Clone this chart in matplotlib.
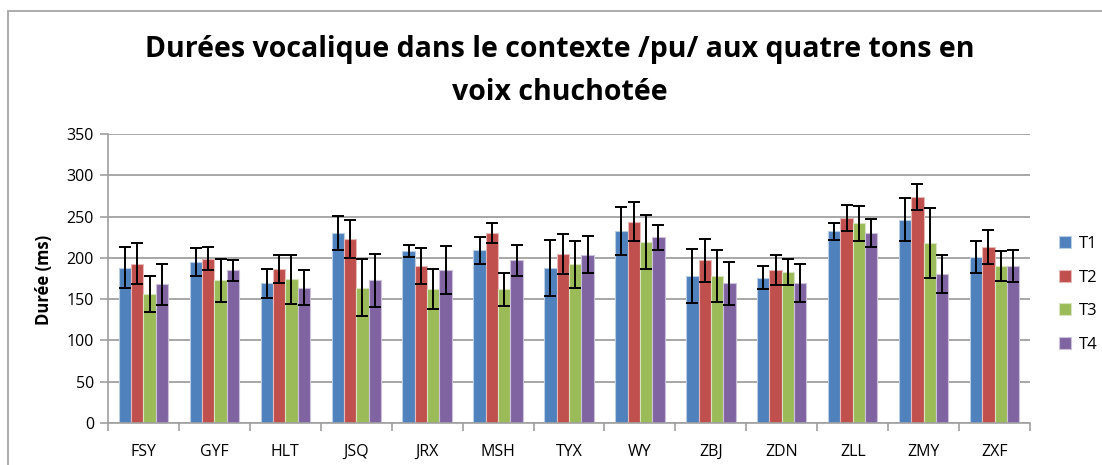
import matplotlib
matplotlib.use("Agg")
import matplotlib.pyplot as plt
import numpy as np
from matplotlib.patches import Rectangle

speakers = ["FSY", "GYF", "HLT", "JSQ", "JRX", "MSH", "TYX", "WY", "ZBJ", "ZDN", "ZLL", "ZMY", "ZXF"]
tones = ["T1", "T2", "T3", "T4"]

t1 = [188, 195, 169, 230, 208, 209, 188, 232, 178, 176, 232, 246, 201]
t2 = [193, 199, 186, 223, 190, 230, 205, 244, 197, 185, 248, 274, 213]
t3 = [156, 173, 174, 164, 162, 162, 192, 219, 178, 183, 242, 218, 190]
t4 = [168, 185, 164, 173, 185, 197, 204, 225, 169, 169, 230, 180, 190]

e1 = [25, 17, 18, 21, 7, 16, 34, 29, 33, 14, 10, 26, 19]
e2 = [25, 14, 17, 23, 22, 12, 24, 24, 26, 18, 16, 16, 21]
e3 = [22, 26, 30, 35, 24, 20, 29, 33, 32, 16, 21, 42, 18]
e4 = [25, 13, 21, 32, 29, 19, 22, 15, 26, 23, 17, 23, 19]

colors = ["#4F81BD", "#C0504D", "#9BBB59", "#8064A2"]
edges = ["#B9CDE5", "#E6B9B8", "#D7E4BD", "#CCC1DA"]

W, H = 1102, 465
fig = plt.figure(figsize=(W / 100, H / 100), dpi=100)
fig.patch.set_facecolor("white")

# outer chart frame
fig.patches.append(Rectangle((8 / W, -0.1), 1.2, 1 - 11 / H + 0.1,
                             transform=fig.transFigure, fill=False,
                             edgecolor="#A6A6A6", linewidth=1.3, zorder=0))

ax = fig.add_axes([108 / W, 1 - 423 / H, (1030 - 108) / W, (423 - 134) / H])

font = ["Open Sans", "DejaVu Sans"]
x = np.arange(len(speakers))
bw = 0.174
series = [t1, t2, t3, t4]
errs = [e1, e2, e3, e4]
for i, (vals, err) in enumerate(zip(series, errs)):
    pos = x + (i - 1.5) * bw
    ax.bar(pos, vals, width=bw, color=colors[i], edgecolor=edges[i],
           linewidth=0.8, label=tones[i], zorder=2)
    ax.errorbar(pos, vals, yerr=err, fmt="none", ecolor="black",
                elinewidth=1.4, capsize=4, capthick=1.4, zorder=3)

ax.set_xlim(-0.5, len(speakers) - 0.5)
ax.set_ylim(0, 350)
ax.set_yticks(np.arange(0, 351, 50))
ax.yaxis.grid(True, color="#A0A0A0", linewidth=1.3, zorder=0)
ax.set_axisbelow(True)

ax.set_xticks(np.arange(-0.5, len(speakers)), minor=False)
ax.set_xticklabels([])
ax.set_xticks(x, minor=True)
ax.set_xticklabels(speakers, minor=True, fontsize=11.5, family=font)
ax.tick_params(axis="x", which="major", length=6, color="#A0A0A0", width=1.2)
ax.tick_params(axis="x", which="minor", length=0, pad=15)
ax.tick_params(axis="y", length=6, color="#A0A0A0", width=1.2, labelsize=11.5, pad=4)
for lab in ax.get_yticklabels():
    lab.set_family(font)

for s in ["top", "right"]:
    ax.spines[s].set_visible(False)
for s in ["left", "bottom"]:
    ax.spines[s].set_color("#A0A0A0")
    ax.spines[s].set_linewidth(1.2)

ax.set_ylabel("Durée (ms)", fontsize=12, fontweight="bold", family=font)
ax.yaxis.set_label_coords(-0.0597, 0.495)

leg = ax.legend(loc="center left", bbox_to_anchor=(1.015, 0.445), frameon=False,
                prop={"family": font, "size": 12}, handlelength=0.75,
                handleheight=0.75, labelspacing=1.05, handletextpad=0.45)

fig.text(560 / W, 1 - 50 / H, "Durées vocalique dans le contexte /pu/ aux quatre tons en",
         ha="center", va="center", fontsize=20.5, fontweight="bold", family=font)
fig.text(560 / W, 1 - 92 / H, "voix chuchotée",
         ha="center", va="center", fontsize=20.5, fontweight="bold", family=font)

fig.savefig("out.png", dpi=100, facecolor="white")
